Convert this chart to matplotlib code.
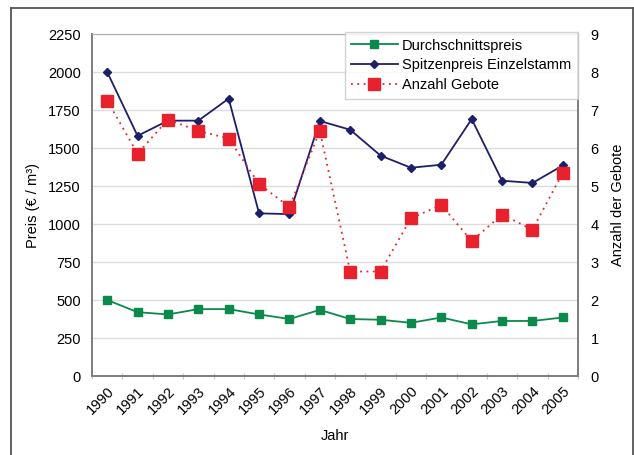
import numpy as np
import matplotlib.pyplot as plt
from matplotlib.lines import Line2D

plt.rcParams['font.family'] = ['Liberation Sans', 'DejaVu Sans']

years = [str(y) for y in range(1990, 2006)]
durchschnitt = [500, 420, 405, 440, 440, 405, 375, 435, 375, 370, 350, 385, 340, 362, 362, 385]
spitzenpreis = [2000, 1580, 1680, 1680, 1825, 1070, 1065, 1678, 1620, 1450, 1370, 1390, 1690, 1285, 1270, 1385]
gebote = [7.25, 5.85, 6.75, 6.45, 6.25, 5.05, 4.45, 6.45, 2.75, 2.75, 4.15, 4.5, 3.55, 4.25, 3.85, 5.35]

green = '#0b8a4c'
navy = '#1e1f6b'
red = '#e8222c'
axis_grey = '#7f7f7f'
fs = 10.5

fig = plt.figure(figsize=(6.34, 4.55), dpi=100)
ax = fig.add_axes([92 / 634, 79 / 455, 486 / 634, 342 / 455])
ax2 = ax.twinx()

x = np.arange(len(years)) + 0.5
ax.plot(x, durchschnitt, color=green, marker='s', markersize=5.5, linewidth=1.3, zorder=3)
ax.plot(x, spitzenpreis, color=navy, marker='D', markersize=4, linewidth=1.3, zorder=3)
ax2.plot(x, gebote, color=red, marker='s', markersize=8.5, linewidth=1.3,
         linestyle=(0, (1, 2.5)), zorder=3)

ax.set_xlim(0, len(years))
ax.set_ylim(0, 2250)
ax.set_yticks(np.arange(0, 2251, 250))
ax2.set_ylim(0, 9)
ax2.set_yticks(np.arange(0, 10, 1))

ax.set_xticks(np.arange(0, len(years) + 1))
ax.set_xticklabels([])
ax.tick_params(axis='x', which='major', length=4, direction='inout', color='#c8c8c8')
ax.set_xticks(x, minor=True)
ax.set_xticklabels(years, minor=True, rotation=45, ha='right', rotation_mode='anchor')
ax.tick_params(axis='x', which='minor', length=0, pad=6, labelsize=fs)
ax.tick_params(axis='y', length=0, pad=8, labelsize=fs)
ax2.tick_params(axis='y', length=0, pad=9, labelsize=fs)

ax.grid(axis='y', color='#dcdcdc', linewidth=1)
ax.set_axisbelow(True)

for a in (ax, ax2):
    a.spines['left'].set_color(axis_grey)
    a.spines['bottom'].set_color(axis_grey)
    a.spines['right'].set_color(axis_grey)
    a.spines['top'].set_color('#b0b0b0')
    a.spines['left'].set_linewidth(1.3)
    a.spines['bottom'].set_linewidth(1.3)
    a.spines['right'].set_linewidth(1.3)

ax.set_ylabel('Preis (€ / m³)', fontsize=fs, labelpad=6)
ax2.set_ylabel('Anzahl der Gebote', fontsize=fs, labelpad=9)
ax.set_xlabel('Jahr', fontsize=fs, labelpad=8)

handles = [
    Line2D([], [], color=green, marker='s', markersize=5.5, linewidth=1.3),
    Line2D([], [], color=navy, marker='D', markersize=4, linewidth=1.3),
    Line2D([], [], color=red, marker='s', markersize=8.5, linewidth=1.3, linestyle=(0, (1, 2.5))),
]
leg = ax2.legend(handles, ['Durchschnittspreis', 'Spitzenpreis Einzelstamm', 'Anzahl Gebote'],
                 loc='upper right', bbox_to_anchor=(1.0, 1.006), fontsize=fs,
                 frameon=True, fancybox=False, borderpad=0.45, labelspacing=0.4,
                 handlelength=3.2, handletextpad=0.3, borderaxespad=0)
leg.get_frame().set_edgecolor('#c8c8c8')
leg.get_frame().set_linewidth(1)
leg.set_zorder(5)

# outer frame around the figure
fig.add_artist(Line2D([11 / 634, 11 / 634], [0, 447 / 455], transform=fig.transFigure, color='#555555', linewidth=1.3))
fig.add_artist(Line2D([11 / 634, 633 / 634], [447 / 455, 447 / 455], transform=fig.transFigure, color='#555555', linewidth=1.3))
fig.add_artist(Line2D([633 / 634, 633 / 634], [0, 447 / 455], transform=fig.transFigure, color='#555555', linewidth=1.3))

fig.savefig('out.png', dpi=100)
